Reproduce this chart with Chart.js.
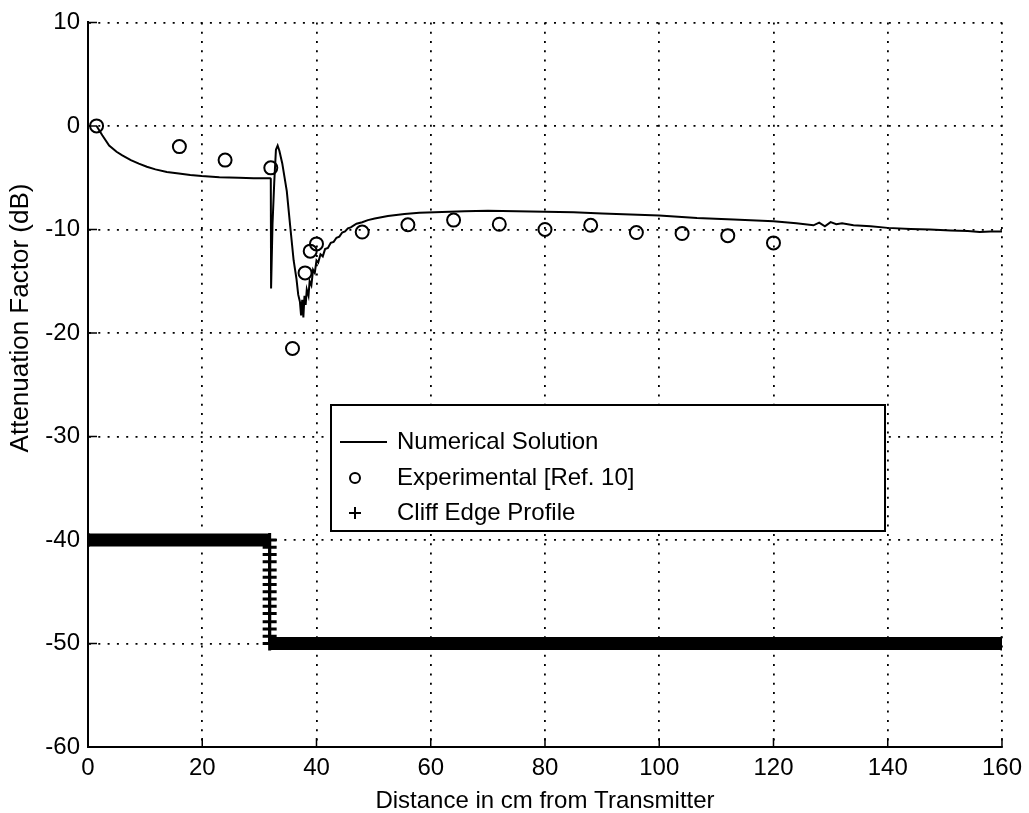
<!DOCTYPE html>
<html>
<head>
<meta charset="utf-8">
<title>Attenuation Factor vs Distance</title>
<script src="https://cdn.jsdelivr.net/npm/chart.js@4.4.0/dist/chart.umd.min.js"></script>
<style>
  html, body { margin: 0; padding: 0; background: #fff; }
  #wrap { width: 1029px; height: 813px; }
</style>
</head>
<body>
<div id="wrap"><canvas id="attChart" width="1029" height="813"></canvas></div>
<script>
// --- data ---
// numerical solution (cm, dB)
const numX = [1.5, 2.5, 3.7, 5.0, 6.0, 7.5, 8.9, 10.3, 11.8, 13.8, 15.9, 17.9, 19.9, 23.0, 26.4, 29.0, 31.9,
  32.0, 32.05, 32.3, 32.6, 32.9, 33.2, 33.5, 34.0, 34.8, 35.4, 36.0, 36.5, 36.8, 37.1, 37.3, 37.5, 37.7, 37.9,
  38.1, 38.3, 38.6, 38.8, 39.1, 39.4, 39.7, 40.0, 40.3, 40.7, 41.1, 41.5, 42.0, 42.5, 43.0, 43.5, 44.0, 44.5,
  45.0, 45.5, 46.0, 47.0, 48.0, 49.0, 50.2, 52.5, 55.4, 58.0, 60.7, 65.9, 70, 75, 80, 85, 90, 95, 100, 106.6,
  113, 120, 124, 127, 128, 129, 130, 131, 132, 134, 137, 140, 144, 147.4, 151, 154, 156.1, 158, 160];
const numY = [0, -0.9, -1.9, -2.5, -2.85, -3.3, -3.65, -3.95, -4.2, -4.45, -4.6, -4.75, -4.85, -4.95, -5.0, -5.05, -5.05,
  -5.1, -15.7, -9.5, -5.5, -2.3, -1.9, -2.4, -3.6, -6.3, -9.7, -13.0, -14.8, -16.3, -17.0, -18.3, -16.8, -18.5, -16.4,
  -17.3, -15.8, -16.4, -15.0, -15.4, -13.9, -14.2, -13.0, -13.2, -12.4, -12.6, -11.9, -11.8, -11.3, -11.2, -10.8, -10.7, -10.3,
  -10.2, -9.9, -9.8, -9.45, -9.3, -9.1, -8.95, -8.7, -8.5, -8.4, -8.35, -8.25, -8.2, -8.25, -8.3, -8.35, -8.45, -8.55, -8.65, -8.9,
  -9.05, -9.2, -9.4, -9.6, -9.35, -9.7, -9.3, -9.5, -9.4, -9.6, -9.7, -9.85, -9.95, -10.0, -10.1, -10.15, -10.25, -10.2, -10.2];

// experimental points [Ref. 10]
const expX = [1.5, 16, 24, 32, 35.8, 38, 38.9, 40, 48, 56, 64, 72, 80, 88, 96, 104, 112, 120];
const expY = [0, -2.0, -3.3, -4.05, -21.5, -14.2, -12.1, -11.4, -10.25, -9.55, -9.1, -9.5, -10.0, -9.6, -10.3, -10.4, -10.6, -11.3];

// cliff edge profile (offset -40 / -50 dB)
const cliffX = [0, 31.8, 31.8, 31.8, 31.8, 31.8, 31.8, 31.8, 31.8, 31.8, 31.8, 31.8, 31.8, 31.8, 31.8, 31.8, 160];
const cliffY = [-40, -40, -40.7, -41.4, -42.1, -42.9, -43.6, -44.3, -45.0, -45.7, -46.4, -47.1, -47.9, -48.6, -49.3, -50, -50];

const xTicks = [0, 20, 40, 60, 80, 100, 120, 140, 160];
const yTicks = [10, 0, -10, -20, -30, -40, -50, -60];
const legendLabels = ['Numerical Solution', 'Experimental [Ref. 10]', 'Cliff Edge Profile'];

const FONT = "'Liberation Sans', Arial, Helvetica, sans-serif";
Chart.defaults.font.family = FONT;
Chart.defaults.color = '#000';

function pts(xs, ys) {
  return xs.map((x, i) => ({ x: x, y: ys[i] }));
}

// small inward tick marks, matlab style
const innerTicks = {
  id: 'innerTicks',
  afterDraw(chart) {
    const { ctx, chartArea: a, scales: { x, y } } = chart;
    ctx.save();
    ctx.strokeStyle = '#000';
    ctx.lineWidth = 1.5;
    ctx.beginPath();
    xTicks.forEach(v => {
      const px = x.getPixelForValue(v);
      ctx.moveTo(px, a.bottom);
      ctx.lineTo(px, a.bottom - 9);
    });
    yTicks.forEach(v => {
      const py = y.getPixelForValue(v);
      ctx.moveTo(a.left, py);
      ctx.lineTo(a.left + 9, py);
    });
    ctx.stroke();
    ctx.restore();
  }
};

// y title sits a bit above the axis centre in the scan, so draw it by hand
const yTitle = {
  id: 'yTitle',
  afterDraw(chart) {
    const ctx = chart.ctx;
    ctx.save();
    ctx.translate(21, 318);
    ctx.rotate(-Math.PI / 2);
    ctx.font = '26px ' + FONT;
    ctx.fillStyle = '#000';
    ctx.textAlign = 'center';
    ctx.textBaseline = 'middle';
    ctx.fillText('Attenuation Factor (dB)', 0, 0);
    ctx.restore();
  }
};

// boxed legend in the middle of the plot
const legendBox = {
  id: 'legendBox',
  afterDraw(chart) {
    const ctx = chart.ctx;
    const bx = 331, by = 405, bw = 554, bh = 126;
    const rows = [442, 478, 513];
    ctx.save();
    ctx.fillStyle = '#fff';
    ctx.fillRect(bx, by, bw, bh);
    ctx.strokeStyle = '#000';
    ctx.lineWidth = 2;
    ctx.strokeRect(bx, by, bw, bh);

    // line sample
    ctx.lineWidth = 2;
    ctx.beginPath();
    ctx.moveTo(340, rows[0]);
    ctx.lineTo(387, rows[0]);
    ctx.stroke();
    // circle sample
    ctx.beginPath();
    ctx.arc(355, rows[1], 5, 0, Math.PI * 2);
    ctx.stroke();
    // plus sample
    ctx.beginPath();
    ctx.moveTo(349, rows[2]);
    ctx.lineTo(361, rows[2]);
    ctx.moveTo(355, rows[2] - 6);
    ctx.lineTo(355, rows[2] + 6);
    ctx.stroke();

    ctx.font = '24px ' + FONT;
    ctx.fillStyle = '#000';
    ctx.textAlign = 'left';
    ctx.textBaseline = 'middle';
    legendLabels.forEach((t, i) => ctx.fillText(t, 397, rows[i]));
    ctx.restore();
  }
};

document.addEventListener('DOMContentLoaded', function () {
  const ctx = document.getElementById('attChart').getContext('2d');

  window.attChart = new Chart(ctx, {
    type: 'scatter',
    data: {
      datasets: [
        {
          label: legendLabels[0],
          data: pts(numX, numY),
          showLine: true,
          borderColor: '#000',
          borderWidth: 2,
          pointRadius: 0,
          tension: 0,
          fill: false
        },
        {
          label: legendLabels[1],
          data: pts(expX, expY),
          showLine: false,
          pointStyle: 'circle',
          pointRadius: 6.5,
          pointBorderWidth: 2,
          borderColor: '#000',
          backgroundColor: 'rgba(0,0,0,0)'
        },
        {
          label: legendLabels[2],
          data: pts(cliffX, cliffY),
          showLine: true,
          pointStyle: 'cross',
          pointRadius: 7,
          pointBorderWidth: 3,
          borderColor: '#000',
          backgroundColor: '#000',
          borderWidth: 2,
          segment: {
            // the dense '+' markers merge into a solid bar on the flat parts
            borderWidth: c => (c.p0.parsed.y === c.p1.parsed.y ? 13 : 2)
          }
        }
      ]
    },
    options: {
      responsive: false,
      animation: false,
      events: [],
      layout: { padding: { top: 19, right: 24, left: 0, bottom: 0 } },
      plugins: {
        legend: { display: false },
        tooltip: { enabled: false }
      },
      scales: {
        x: {
          type: 'linear',
          min: 0,
          max: 160,
          afterFit: s => { s.height = 66; },
          afterBuildTicks: s => { s.ticks = xTicks.map(v => ({ value: v })); },
          ticks: { color: '#000', font: { size: 24 }, padding: 7, maxRotation: 0 },
          grid: { color: '#000', lineWidth: 1.8, drawTicks: false },
          border: { display: true, color: '#000', width: 2, dash: [2, 7.3] },
          title: {
            display: true,
            text: 'Distance in cm from Transmitter',
            color: '#000',
            font: { size: 24, lineHeight: 1 },
            padding: { top: 0, bottom: 0 }
          }
        },
        y: {
          type: 'linear',
          min: -60,
          max: 10,
          afterFit: s => { s.width = 88; },
          afterBuildTicks: s => { s.ticks = yTicks.map(v => ({ value: v })); },
          ticks: { color: '#000', font: { size: 24 }, padding: 8 },
          grid: { color: '#000', lineWidth: 1.8, drawTicks: false },
          border: { display: true, color: '#000', width: 2, dash: [2, 7.3] }
        }
      }
    },
    plugins: [innerTicks, yTitle, legendBox]
  });
});
</script>
</body>
</html>
